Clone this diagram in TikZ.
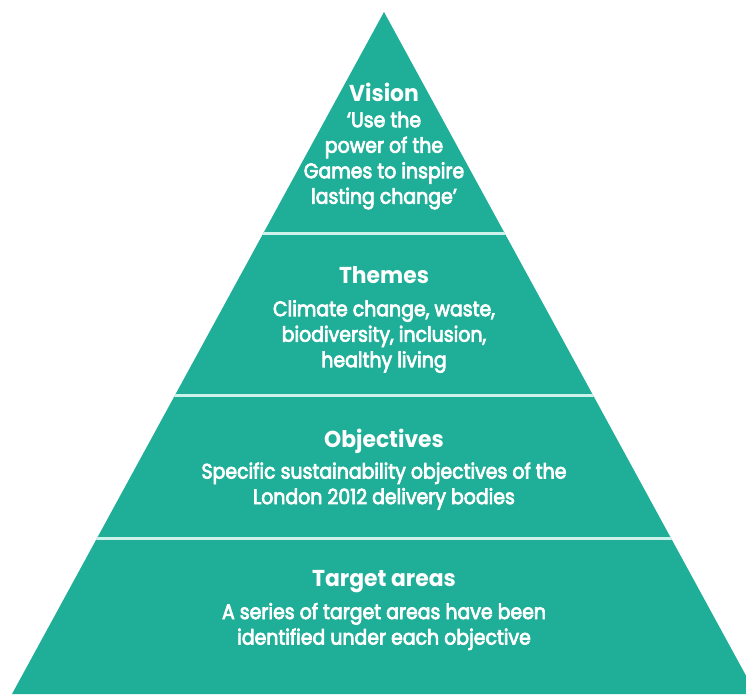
\documentclass[tikz,border=0pt]{standalone}
\usepackage{fontspec}
\setmainfont{Poppins}[FakeStretch=0.95]
\newfontfamily\bodyfont{Poppins}[FakeStretch=0.9, FakeBold=3.5]
\definecolor{teal1}{RGB}{31,174,151}
\definecolor{divider}{RGB}{205,242,235}
\tikzset{
  title/.style={text=white, font=\bfseries\fontsize{23}{26}\selectfont, inner sep=0pt},
  body/.style={text=white, align=center, font=\bodyfont\fontsize{21}{25.5}\selectfont, inner sep=0pt},
}
\begin{document}
\begin{tikzpicture}[x=1pt,y=-1pt]
\useasboundingbox (0,0) rectangle (746,694);
\begin{scope}
\clip (0,0) rectangle (746,694);
\fill[teal1] (384,12) coordinate (apex) -- (12,694) coordinate (bl) -- (756,694) coordinate (br) -- cycle;
\clip (apex) -- (bl) -- (br) -- cycle;
\draw[divider, line width=3pt] (0,233.5) coordinate (d1a) -- (746,233.5) coordinate (d1b);
\draw[divider, line width=3pt] (0,395.5) coordinate (d2a) -- (746,395.5) coordinate (d2b);
\draw[divider, line width=3pt] (0,538.5) coordinate (d3a) -- (746,538.5) coordinate (d3b);
\end{scope}
\node[title] (t1) at (384,92.5) {Vision};
\node[body] (b1) at (384,160.5) {‘Use the\\power of the\\Games to inspire\\lasting change’};
\node[title] (t2) at (384,275) {Themes};
\node[body] (b2) at (384,336.5) {Climate change, waste,\\biodiversity, inclusion,\\healthy living};
\node[title] (t3) at (384,441) {Objectives};
\node[body] (b3) at (384,486) {Specific sustainability objectives of the\\London 2012 delivery bodies};
\node[title] (t4) at (384,582) {Target areas};
\node[body] (b4) at (384,626.5) {A series of target areas have been\\identified under each objective};
\end{tikzpicture}
\end{document}
